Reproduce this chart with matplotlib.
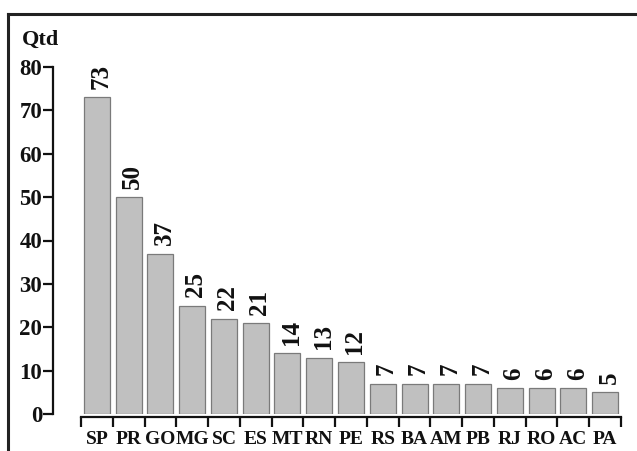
import matplotlib
matplotlib.use("Agg")
import matplotlib.pyplot as plt
from matplotlib.lines import Line2D
import numpy as np

# Counts per state
states = ["SP", "PR", "GO", "MG", "SC", "ES", "MT", "RN", "PE",
          "RS", "BA", "AM", "PB", "RJ", "RO", "AC", "PA"]
counts = [73, 50, 37, 25, 22, 21, 14, 13, 12, 7, 7, 7, 7, 6, 6, 6, 5]
yticks = [0, 10, 20, 30, 40, 50, 60, 70, 80]

plt.rcParams["font.family"] = ["Liberation Serif", "DejaVu Serif"]
plt.rcParams["font.weight"] = "bold"

fig = plt.figure(figsize=(6.37, 4.51), dpi=100)
ax = fig.add_axes([81 / 637, 37 / 451, 540 / 637, 347 / 451])

x = np.arange(len(states))
ax.bar(x, counts, width=0.82, color="#c0c0c0", edgecolor="#7a7a7a", linewidth=0.9)

for xi, v in zip(x, counts):
    ax.text(xi + 0.12, v + 1.9, str(v), rotation=90, ha="center", va="bottom",
            fontsize=18, fontweight="bold", color="#111111")

ax.set_xlim(-0.5, len(states) - 0.5)
ax.set_ylim(0, 80)

# y axis
ax.spines["left"].set_position(("outward", 20))
ax.spines["left"].set_bounds(0, 80)
ax.spines["left"].set_linewidth(1.6)
ax.spines["left"].set_color("#111111")
ax.set_yticks(yticks)
ax.set_yticklabels([str(t) for t in yticks], fontsize=16.5, fontweight="bold")
ax.tick_params(axis="y", direction="out", length=7, width=1.6, pad=1, colors="#111111")

# x axis: boundary ticks, centred labels
ax.spines["bottom"].set_position(("outward", 2))
ax.spines["bottom"].set_linewidth(1.6)
ax.spines["bottom"].set_color("#111111")
ax.set_xticks(x)
ax.set_xticklabels(states, fontsize=14, fontweight="bold")
ax.set_xticks(np.arange(len(states) + 1) - 0.5, minor=True)
ax.tick_params(axis="x", which="major", length=0, pad=10, colors="#111111")
ax.tick_params(axis="x", which="minor", length=7, width=1.6, color="#111111")

ax.spines["top"].set_visible(False)
ax.spines["right"].set_visible(False)

fig.text(22 / 637, 1 - 45 / 451, "Qtd", fontsize=16, fontweight="bold",
         ha="left", va="baseline", color="#111111")

# outer frame (top and left edges)
fig.add_artist(Line2D([8 / 637, 1.0], [1 - 14 / 451, 1 - 14 / 451],
                      transform=fig.transFigure, color="#222222", linewidth=2.2))
fig.add_artist(Line2D([8 / 637, 8 / 637], [0.0, 1 - 14 / 451],
                      transform=fig.transFigure, color="#222222", linewidth=2.2))

fig.savefig("out.png", dpi=100)
